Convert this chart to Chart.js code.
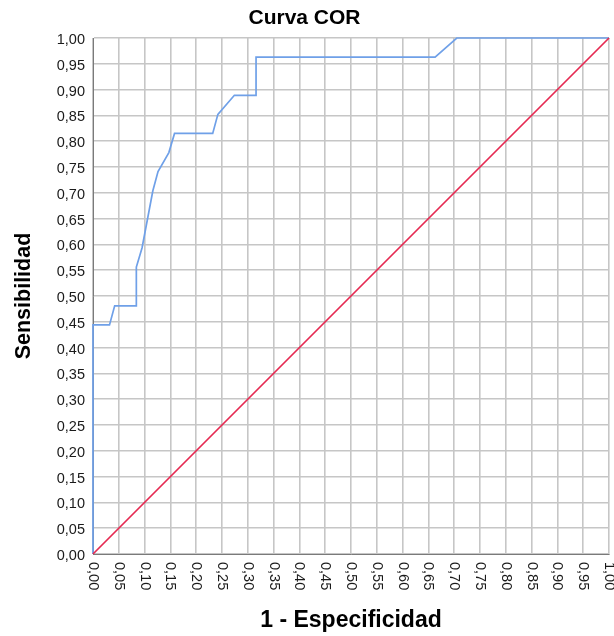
<!DOCTYPE html>
<html>
<head>
<meta charset="utf-8">
<script src="https://cdn.jsdelivr.net/npm/chart.js@4/dist/chart.umd.min.js"></script>
<style>
  html, body { margin: 0; padding: 0; background: #fff; }
  canvas { display: block; }
</style>
</head>
<body>
<canvas id="rocChart" width="614" height="636"></canvas>
<script>
// ROC curve points (1 - especificidad, sensibilidad)
const fprValues = [0, 0, 0.032, 0.042, 0.084, 0.084, 0.095, 0.116, 0.126, 0.147, 0.158, 0.232, 0.242, 0.274, 0.316, 0.316, 0.663, 0.705, 1];
const sensValues = [0, 0.444, 0.444, 0.481, 0.481, 0.556, 0.593, 0.704, 0.741, 0.778, 0.815, 0.815, 0.852, 0.889, 0.889, 0.963, 0.963, 1, 1];
// reference diagonal
const refX = [0, 1];
const refY = [0, 1];
// tick values for both axes
const tickValues = [0, 0.05, 0.1, 0.15, 0.2, 0.25, 0.3, 0.35, 0.4, 0.45, 0.5, 0.55, 0.6, 0.65, 0.7, 0.75, 0.8, 0.85, 0.9, 0.95, 1];

const fontFamily = "'Liberation Sans', Arial, sans-serif";
const fmt = v => v.toFixed(2).replace(".", ",");

const rocPoints = fprValues.map((x, i) => ({ x: x, y: sensValues[i] }));
const refPoints = refX.map((x, i) => ({ x: x, y: refY[i] }));

// x tick labels read top to bottom (rotated clockwise), so draw them here
const xLabelsPlugin = {
    id: "xLabels",
    afterDraw(chart) {
        const ctx = chart.ctx;
        const xs = chart.scales.x;
        const top = chart.chartArea.bottom + 8;
        ctx.save();
        ctx.font = "14.5px " + fontFamily;
        ctx.fillStyle = "#1a1a1a";
        ctx.textAlign = "left";
        ctx.textBaseline = "middle";
        tickValues.forEach(v => {
            ctx.save();
            ctx.translate(xs.getPixelForValue(v), top);
            ctx.rotate(Math.PI / 2);
            ctx.fillText(fmt(v), 0, 0);
            ctx.restore();
        });
        ctx.restore();
    }
};

new Chart("rocChart", {
    type: "scatter",
    data: {
        datasets: [{
            data: refPoints,
            showLine: true,
            borderColor: "#e62a52",
            borderWidth: 1.7,
            pointRadius: 0,
            clip: false
        }, {
            data: rocPoints,
            showLine: true,
            borderColor: "#6fa0e8",
            borderWidth: 1.7,
            pointRadius: 0,
            clip: false
        }]
    },
    options: {
        responsive: false,
        animation: false,
        layout: { padding: { left: 0, right: 5, top: 0, bottom: 0 } },
        plugins: {
            legend: { display: false },
            tooltip: { enabled: false },
            title: {
                display: true,
                text: "Curva COR",
                color: "#000",
                font: { family: fontFamily, size: 21, weight: "bold" },
                padding: { top: 6, bottom: 6.8 }
            }
        },
        scales: {
            x: {
                type: "linear",
                min: 0,
                max: 1,
                afterFit(scale) { scale.height = 82; },
                ticks: { display: false, stepSize: 0.05 },
                grid: { color: "#c6c6c6", lineWidth: 1.6, drawTicks: false },
                border: { color: "#7a7a7a", width: 1 },
                title: {
                    display: true,
                    text: "1 - Especificidad",
                    color: "#000",
                    font: { family: fontFamily, size: 23, weight: "bold" },
                    padding: { top: 0, bottom: 2 }
                }
            },
            y: {
                type: "linear",
                min: 0,
                max: 1,
                afterFit(scale) { scale.width = 93; },
                ticks: {
                    stepSize: 0.05,
                    autoSkip: false,
                    padding: 8,
                    labelOffset: 2,
                    color: "#1a1a1a",
                    font: { family: fontFamily, size: 14.5 },
                    callback: v => fmt(v)
                },
                grid: { color: "#c6c6c6", lineWidth: 1.6, drawTicks: false },
                border: { color: "#7a7a7a", width: 1 },
                title: {
                    display: true,
                    text: "Sensibilidad",
                    color: "#000",
                    font: { family: fontFamily, size: 21.5, weight: "bold" },
                    padding: { top: 11, bottom: 0 }
                }
            }
        }
    },
    plugins: [xLabelsPlugin]
});
</script>
</body>
</html>
